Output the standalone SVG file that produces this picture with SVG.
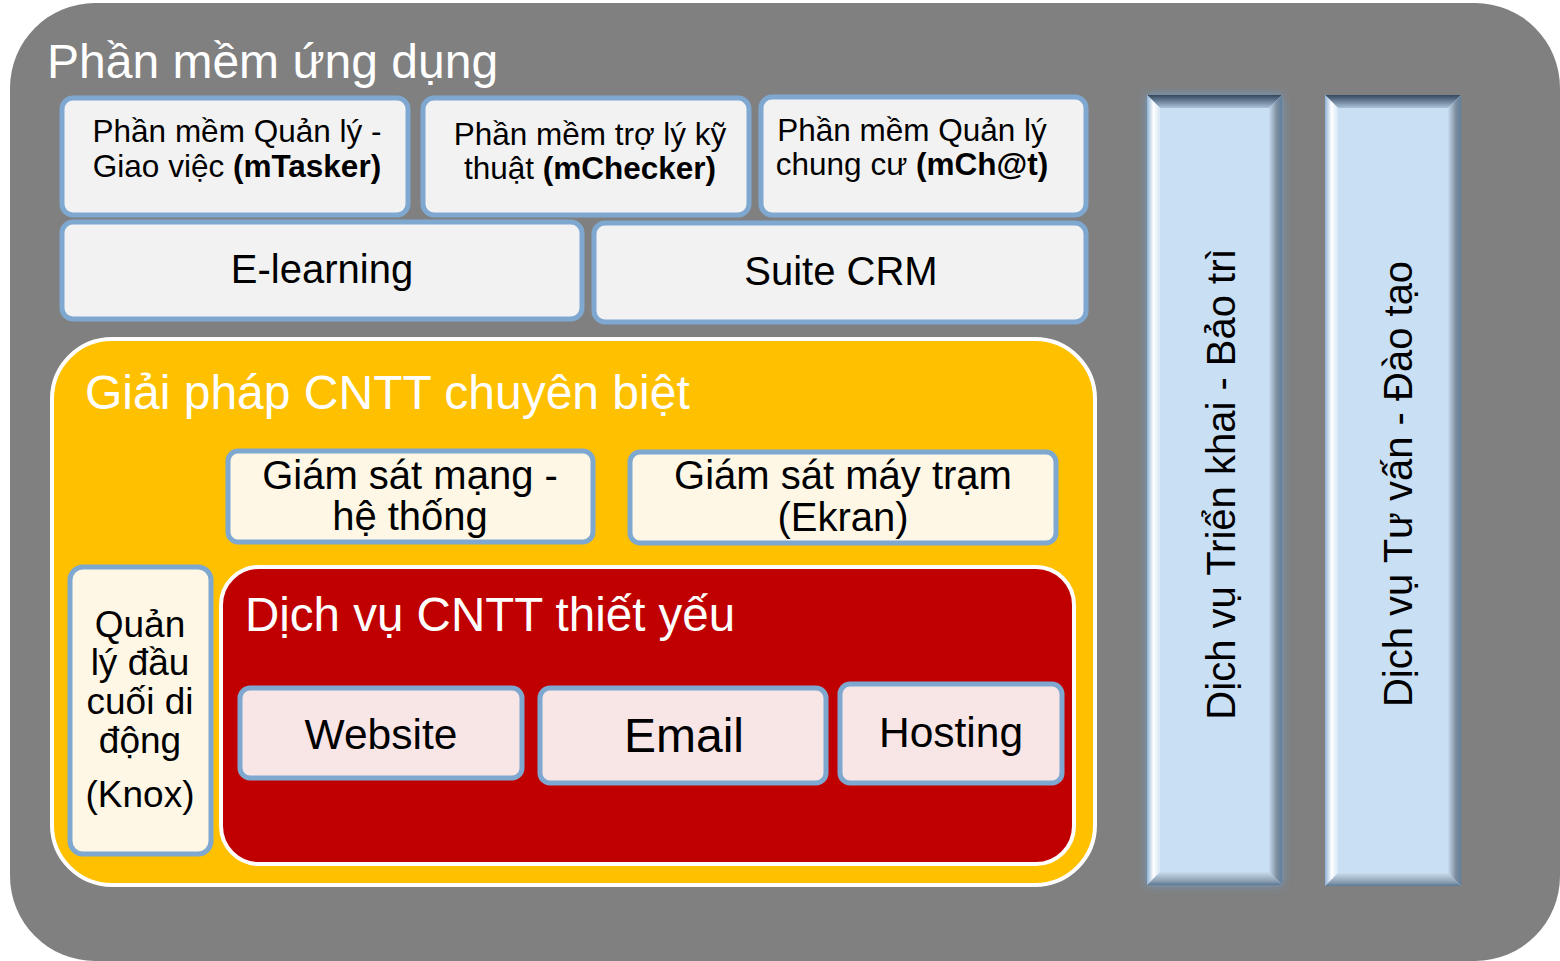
<svg xmlns="http://www.w3.org/2000/svg" width="1560" height="961" viewBox="0 0 1560 961">
<defs>
<style>
.t{font-family:"Liberation Sans",Arial,sans-serif;fill:#000}
.w{font-family:"Liberation Sans",Arial,sans-serif;fill:#fff}
.box{stroke:#7FA8D1;stroke-width:5}
.g{fill:#F2F2F2}
.c{fill:#FEF7E5}
.p{fill:#F8E5E6}
.b{font-weight:bold}
</style>
<linearGradient id="topB" x1="0" y1="0" x2="0" y2="1">
<stop offset="0" stop-color="#33475C"/><stop offset="1" stop-color="#A9C1D9"/>
</linearGradient>
<linearGradient id="leftB" x1="0" y1="0" x2="1" y2="0">
<stop offset="0" stop-color="#8FB3D6"/><stop offset="0.5" stop-color="#FFFFFF"/><stop offset="1" stop-color="#D6E7F7"/>
</linearGradient>
<linearGradient id="rightB" x1="0" y1="0" x2="1" y2="0">
<stop offset="0" stop-color="#C6DBEF"/><stop offset="0.6" stop-color="#7E8E9E"/><stop offset="1" stop-color="#5F7F9F"/>
</linearGradient>
<linearGradient id="botB" x1="0" y1="0" x2="0" y2="1">
<stop offset="0" stop-color="#C9DCEE"/><stop offset="0.7" stop-color="#8C9FB2"/><stop offset="1" stop-color="#5A7896"/>
</linearGradient>
<filter id="glow" x="-20%" y="-5%" width="140%" height="110%">
<feGaussianBlur in="SourceAlpha" stdDeviation="5" result="bl"/>
<feFlood flood-color="#6F9CC8" flood-opacity="0.9"/>
<feComposite in2="bl" operator="in" result="gl"/>
<feMerge><feMergeNode in="gl"/><feMergeNode in="SourceGraphic"/></feMerge>
</filter>
</defs>

<g id="ung-dung">
<rect x="10" y="3" width="1550" height="958" rx="85" ry="85" fill="#808080"/>
<text class="w" x="47" y="78" font-size="48">Phần mềm ứng dụng</text>
</g>

<g id="mtasker">
<rect class="box g" x="62" y="98" width="346" height="117" rx="11"/>
<text class="t" font-size="31.5" text-anchor="middle"><tspan x="237" y="142">Phần mềm Quản lý -</tspan><tspan x="237" y="177">Giao việc <tspan class="b">(mTasker)</tspan></tspan></text>
</g>
<g id="mchecker">
<rect class="box g" x="423" y="98" width="326" height="117" rx="11"/>
<text class="t" font-size="31.5" text-anchor="middle"><tspan x="590" y="145">Phần mềm trợ lý kỹ</tspan><tspan x="590" y="179">thuật <tspan class="b">(mChecker)</tspan></tspan></text>
</g>
<g id="mchat">
<rect class="box g" x="761" y="97" width="325" height="118" rx="11"/>
<text class="t" font-size="31.5" text-anchor="middle"><tspan x="912" y="141">Phần mềm Quản lý</tspan><tspan x="912" y="175">chung cư <tspan class="b">(mCh@t)</tspan></tspan></text>
</g>
<g id="elearning">
<rect class="box g" x="62" y="222" width="520" height="97" rx="11"/>
<text class="t" x="322" y="283" font-size="40" text-anchor="middle">E-learning</text>
</g>
<g id="crm">
<rect class="box g" x="594" y="223" width="492" height="99" rx="11"/>
<text class="t" x="841" y="285" font-size="40" text-anchor="middle">Suite CRM</text>
</g>

<g id="chuyen-biet">
<rect x="52" y="339" width="1043" height="546" rx="60" fill="#FFC000" stroke="#FFFFFF" stroke-width="4"/>
<text class="w" x="85" y="409" font-size="48">Giải pháp CNTT chuyên biệt</text>
</g>
<g id="giam-sat-mang">
<rect class="box c" x="228" y="451" width="365" height="91" rx="10"/>
<text class="t" font-size="40" text-anchor="middle"><tspan x="410" y="489">Giám sát mạng -</tspan><tspan x="410" y="530">hệ thống</tspan></text>
</g>
<g id="giam-sat-may-tram">
<rect class="box c" x="630" y="452" width="426" height="91" rx="10"/>
<text class="t" font-size="40" text-anchor="middle"><tspan x="843" y="489">Giám sát máy trạm</tspan><tspan x="843" y="531">(Ekran)</tspan></text>
</g>
<g id="knox">
<rect class="box c" x="70" y="567" width="141" height="287" rx="13"/>
<text class="t" font-size="37" text-anchor="middle"><tspan x="140" y="637">Quản</tspan><tspan x="140" y="675">lý đầu</tspan><tspan x="140" y="714">cuối di</tspan><tspan x="140" y="753">động</tspan><tspan x="140" y="807">(Knox)</tspan></text>
</g>

<g id="thiet-yeu">
<rect x="221" y="567" width="853" height="297" rx="38" fill="#C00000" stroke="#FFFFFF" stroke-width="4"/>
<text class="w" x="245" y="631" font-size="47.5">Dịch vụ CNTT thiết yếu</text>
</g>
<g id="website">
<rect class="box p" x="240" y="688" width="282" height="90" rx="10"/>
<text class="t" x="381" y="749" font-size="42.5" text-anchor="middle">Website</text>
</g>
<g id="email">
<rect class="box p" x="540" y="688" width="286" height="95" rx="10"/>
<text class="t" x="684" y="752" font-size="48" text-anchor="middle">Email</text>
</g>
<g id="hosting">
<rect class="box p" x="840" y="684" width="222" height="99" rx="10"/>
<text class="t" x="951" y="747" font-size="42.5" text-anchor="middle">Hosting</text>
</g>

<g id="trien-khai">
<g filter="url(#glow)">
<rect x="1147" y="95" width="135" height="790" fill="#C9DFF4"/>
</g>
<polygon points="1147,95 1282,95 1269,108 1160,108" fill="url(#topB)"/>
<polygon points="1147,95 1160,108 1160,872 1147,885" fill="url(#leftB)"/>
<polygon points="1282,95 1282,885 1269,872 1269,108" fill="url(#rightB)"/>
<polygon points="1147,885 1160,872 1269,872 1282,885" fill="url(#botB)"/>
<text class="t" font-size="40" text-anchor="middle" transform="translate(1235,484) rotate(-90)">Dịch vụ Triển khai - Bảo trì</text>
</g>
<g id="tu-van">
<rect x="1325" y="95" width="136" height="791" fill="#C9DFF4"/>
<polygon points="1325,95 1461,95 1448,108 1338,108" fill="url(#topB)"/>
<polygon points="1325,95 1338,108 1338,873 1325,886" fill="url(#leftB)"/>
<polygon points="1461,95 1461,886 1448,873 1448,108" fill="url(#rightB)"/>
<polygon points="1325,886 1338,873 1448,873 1461,886" fill="url(#botB)"/>
<text class="t" font-size="40" text-anchor="middle" transform="translate(1412,484) rotate(-90)">Dịch vụ Tư vấn - Đào tạo</text>
</g>
<g id="connectors"/>
</svg>
